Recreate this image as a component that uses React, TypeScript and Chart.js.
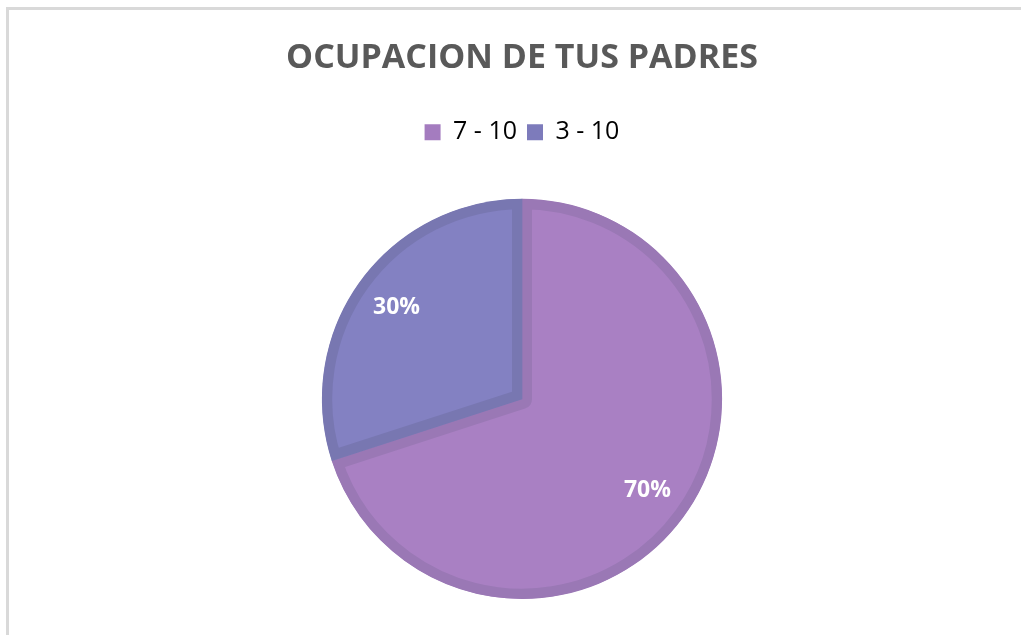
import React, { useEffect, useRef } from "react";
import { Chart, registerables } from "chart.js";

Chart.register(...registerables);

const chartTitle = "OCUPACION DE TUS PADRES";
const categories = ["7 - 10", "3 - 10"];
const values = [70, 30];
const percentLabels = ["70%", "30%"];
const fillColors = ["#A980C3", "#8381C2"];
const borderColors = ["#9A78B5", "#7877B1"];
const legendColors = ["#A47CBF", "#7D7BBB"];

const FONT = "'Open Sans', 'DejaVu Sans', sans-serif";

const percentLabelPlugin = {
  id: "percentLabels",
  afterDatasetsDraw(chart: any) {
    const meta = chart.getDatasetMeta(0);
    const ctx = chart.ctx;
    ctx.save();
    ctx.fillStyle = "#FFFFFF";
    ctx.font = `bold 23px ${FONT}`;
    ctx.textAlign = "center";
    ctx.textBaseline = "middle";
    meta.data.forEach((arc: any, i: number) => {
      const p = arc.getProps(["x", "y", "startAngle", "endAngle", "outerRadius"], true);
      const mid = (p.startAngle + p.endAngle) / 2;
      const r = p.outerRadius * 0.775;
      ctx.fillText(percentLabels[i], p.x + Math.cos(mid) * r, p.y + Math.sin(mid) * r);
    });
    ctx.restore();
  },
};

export default function App() {
  const canvasRef = useRef<HTMLCanvasElement | null>(null);

  useEffect(() => {
    document.body.style.margin = "0";
    document.body.style.overflow = "hidden";
    const canvas = canvasRef.current;
    if (!canvas) return;
    const chart = new Chart(canvas, {
      type: "pie",
      data: {
        labels: categories,
        datasets: [
          {
            data: values,
            backgroundColor: fillColors,
            borderColor: borderColors,
            borderWidth: 10,
            borderAlign: "inner",
          } as any,
        ],
      },
      options: {
        animation: false,
        responsive: true,
        maintainAspectRatio: false,
        layout: { padding: { left: 23, right: 0, top: 0, bottom: 36 } },
        plugins: {
          tooltip: { enabled: false },
          title: {
            display: true,
            text: chartTitle,
            color: "#595959",
            font: { family: FONT, size: 34, weight: "bold", lineHeight: 1.2 },
            padding: { top: 38, bottom: 31 },
          },
          subtitle: {
            display: true,
            text: " ",
            weight: 500,
            font: { size: 10, lineHeight: 1.2 },
            padding: { top: 32, bottom: 0 },
          } as any,
          legend: {
            display: true,
            position: "top",
            labels: {
              boxWidth: 16,
              boxHeight: 16,
              padding: 10,
              color: "#595959",
              font: { family: FONT, size: 25 },
              generateLabels: (c: any) =>
                categories.map((label, i) => ({
                  text: label,
                  fillStyle: legendColors[i],
                  strokeStyle: legendColors[i],
                  lineWidth: 0,
                  hidden: false,
                  index: i,
                  datasetIndex: 0,
                })),
            },
          },
        },
      },
      plugins: [percentLabelPlugin],
    } as any);
    return () => chart.destroy();
  }, []);

  return (
    <div
      style={{
        position: "fixed",
        left: 0,
        top: 0,
        width: 1021,
        height: 635,
        background: "#FFFFFF",
        overflow: "hidden",
      }}
    >
      <div
        style={{
          position: "absolute",
          left: 6,
          top: 7,
          width: 1100,
          height: 700,
          borderLeft: "3px solid #D9D9D9",
          borderTop: "3px solid #D9D9D9",
        }}
      />
      <div style={{ position: "absolute", left: 0, top: 0, width: 1021, height: 635 }}>
        <canvas ref={canvasRef} />
      </div>
    </div>
  );
}
